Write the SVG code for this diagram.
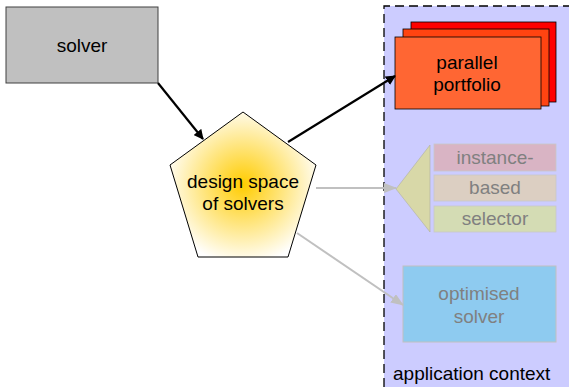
<svg xmlns="http://www.w3.org/2000/svg" width="569" height="387" viewBox="0 0 569 387">
<style>
text{font-family:"Liberation Sans",Arial,sans-serif;font-size:19px;text-anchor:middle}
.dark{fill:#000}
.grey{fill:#808080}
.blk{stroke:#000;stroke-width:2.2;fill:none}
.gry{stroke:#c0c0c0;stroke-width:2;fill:none}
</style>
<defs>
<marker id="ab" markerWidth="10" markerHeight="10" refX="9" refY="5" orient="auto" markerUnits="userSpaceOnUse" viewBox="0 0 10 10"><path d="M0,0 L10,5 L0,10 Z" fill="#000"/></marker>
<marker id="ag" markerWidth="13" markerHeight="10" refX="12" refY="5" orient="auto" markerUnits="userSpaceOnUse" viewBox="0 0 13 10"><path d="M0,0 L13,5 L0,10 Z" fill="#c0c0c0"/></marker>
<radialGradient id="yg" cx="0.5" cy="0.5" r="0.55">
<stop offset="0" stop-color="#ffcc00"/>
<stop offset="1" stop-color="#ffffff"/>
</radialGradient>
</defs>
<g id="context">
<rect x="384" y="6" width="190" height="390" fill="#ccccff"/>
<path d="M384,387 L384,6 L569,6" fill="none" stroke="#000" stroke-width="1.3" stroke-dasharray="9,5"/>
<text x="393" y="380" class="dark" style="text-anchor:start">application context</text>
</g>
<g id="solver">
<rect x="6" y="7" width="152" height="76" fill="#c0c0c0" stroke="#404040" stroke-width="1"/>
<text x="82" y="52" class="dark">solver</text>
</g>
<g id="design">
<polygon points="243,112 316,165 288,257 198,257 170,165" fill="url(#yg)" stroke="#000" stroke-width="1"/>
<text x="243" y="188" class="dark">design space</text>
<text x="243" y="210" class="dark">of solvers</text>
</g>
<g id="portfolio">
<rect x="411" y="22" width="145" height="80" fill="#ff0000" stroke="#000" stroke-width="0.8"/>
<rect x="403" y="29" width="146" height="77" fill="#ff4411" stroke="#000" stroke-width="0.8"/>
<rect x="395" y="37" width="146" height="72" fill="#ff6633" stroke="#000" stroke-width="0.8"/>
<text x="467" y="69" class="dark">parallel</text>
<text x="467" y="91" class="dark">portfolio</text>
</g>
<g id="selector">
<polygon points="396,189 430,145 430,232" fill="#d8d8a8" stroke="#b0b0a0" stroke-width="0.6"/>
<rect x="434" y="144" width="122" height="27" fill="#d9b4c4" stroke="#c8c8c8" stroke-width="0.8"/>
<rect x="434" y="175" width="122" height="26" fill="#dccfc2" stroke="#c8c8c8" stroke-width="0.8"/>
<rect x="434" y="206" width="122" height="26" fill="#d4dcb4" stroke="#c8c8c8" stroke-width="0.8"/>
<text x="495" y="164" class="grey">instance-</text>
<text x="495" y="194" class="grey">based</text>
<text x="495" y="225" class="grey">selector</text>
</g>
<g id="optimised">
<rect x="403" y="266" width="153" height="76" fill="#8ecbf0" stroke="#c0c0c0" stroke-width="1"/>
<text x="479" y="300" class="grey">optimised</text>
<text x="479" y="323" class="grey">solver</text>
</g>
<g id="connectors">
<line x1="158" y1="83" x2="203" y2="139" class="blk" marker-end="url(#ab)"/>
<line x1="288" y1="142" x2="395" y2="76" class="blk" marker-end="url(#ab)"/>
<line x1="316" y1="188" x2="396" y2="188" class="gry" marker-end="url(#ag)"/>
<line x1="297" y1="233" x2="403" y2="305" class="gry" marker-end="url(#ag)"/>
</g>
</svg>
